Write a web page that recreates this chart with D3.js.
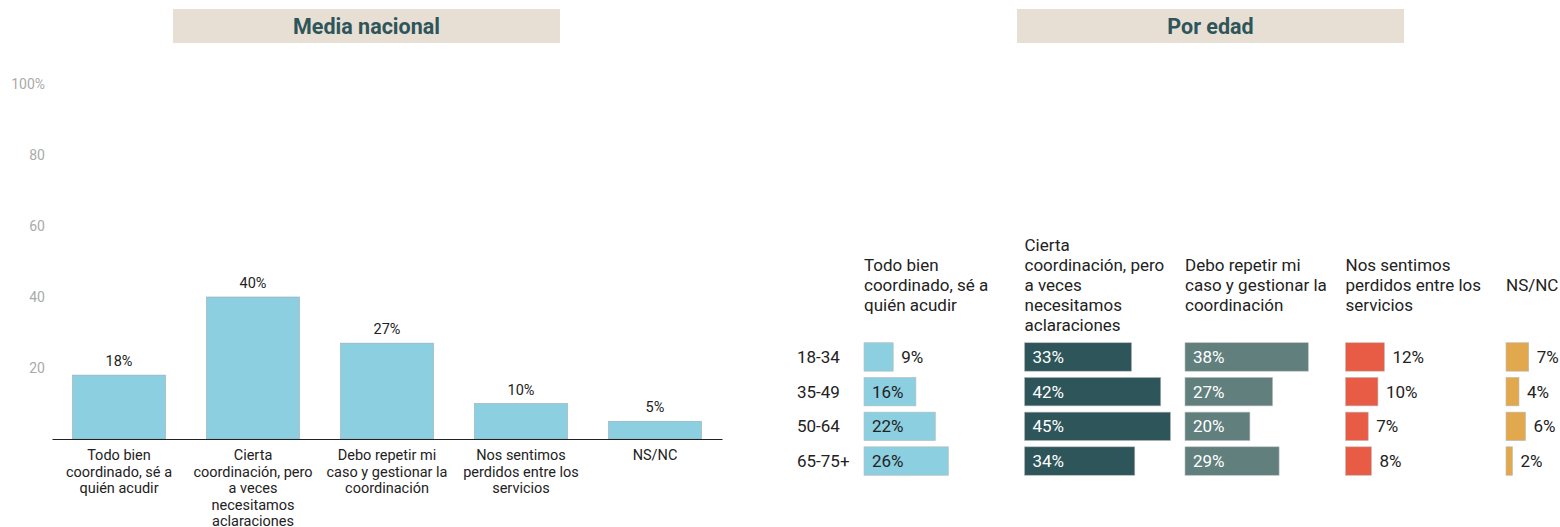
<!DOCTYPE html>
<html>
<head>
<meta charset="utf-8">
<script src="https://cdn.jsdelivr.net/npm/d3@7"></script>
<style>
  body { margin: 0; background: #fff; font-family: Roboto, "Noto Sans", sans-serif; }
  svg text { font-family: Roboto, "Noto Sans", sans-serif; }
</style>
</head>
<body>
<svg id="chart" width="1560" height="527"></svg>
<script>
// answers, with their line breaks as drawn
const categories = [
  ["Todo bien", "coordinado, sé a", "quién acudir"],
  ["Cierta", "coordinación, pero", "a veces", "necesitamos", "aclaraciones"],
  ["Debo repetir mi", "caso y gestionar la", "coordinación"],
  ["Nos sentimos", "perdidos entre los", "servicios"],
  ["NS/NC"]
];
const nationalValues = [18, 40, 27, 10, 5];
const yTicks = [20, 40, 60, 80, 100];

const ageGroups = ["18-34", "35-49", "50-64", "65-75+"];
const todoBien = [9, 16, 22, 26];
const cierta = [33, 42, 45, 34];
const debo = [38, 27, 20, 29];
const perdidos = [12, 10, 7, 8];
const nsnc = [7, 4, 6, 2];
const ageSeries = [todoBien, cierta, debo, perdidos, nsnc];
const seriesColors = ["#8ccfe0", "#2d555a", "#607f7d", "#e85c45", "#e2a84d"];
const labelInside = [v => v >= 15, () => true, () => true, () => false, () => false];

const svg = d3.select("#chart");
const titleColor = "#2d555a";
const textColor = "#222";

// title boxes
const titles = [{ text: "Media nacional", x: 173 }, { text: "Por edad", x: 1017 }];
titles.forEach(t => {
  svg.append("rect").attr("x", t.x).attr("y", 9).attr("width", 387).attr("height", 34).attr("fill", "#e8dfd4");
  svg.append("text").attr("x", t.x + 193.5).attr("y", 34).attr("text-anchor", "middle")
    .style("font-size", "21.5px").style("font-weight", 700).attr("fill", titleColor).text(t.text);
});

// ---- left: national average
const x = d3.scaleBand().domain(d3.range(categories.length)).range([52, 722]).paddingInner(0.306).paddingOuter(0.153);
const y = d3.scaleLinear().domain([0, 100]).range([439, 84]);

const yAxis = svg.append("g").attr("transform", "translate(52,0)")
  .call(d3.axisLeft(y).tickValues(yTicks).tickSize(0).tickPadding(7).tickFormat(d => d === 100 ? "100%" : d));
yAxis.select(".domain").remove();
yAxis.selectAll("text").attr("fill", "#aaa").style("font-size", "14px");

svg.append("g").selectAll("rect").data(nationalValues).join("rect")
  .attr("x", (d, i) => x(i)).attr("y", d => y(d))
  .attr("width", x.bandwidth()).attr("height", d => y(0) - y(d))
  .attr("fill", "#8ccfe0").attr("stroke", "#9ab").attr("stroke-width", 0.6);

svg.append("g").selectAll("text").data(nationalValues).join("text")
  .attr("x", (d, i) => x(i) + x.bandwidth() / 2).attr("y", d => y(d) - 9)
  .attr("text-anchor", "middle").style("font-size", "14.5px").attr("fill", textColor)
  .text(d => d + "%");

const xAxis = svg.append("g").attr("transform", "translate(0,439)")
  .call(d3.axisBottom(x).tickSize(0).tickFormat(""));
xAxis.select(".domain").attr("stroke", "#222").attr("stroke-width", 1.2);

svg.append("g").selectAll("text").data(categories).join("text")
  .attr("x", (d, i) => x(i) + x.bandwidth() / 2).attr("y", 460)
  .attr("text-anchor", "middle").style("font-size", "14.5px").attr("fill", textColor)
  .each(function (lines) {
    d3.select(this).selectAll("tspan").data(lines).join("tspan")
      .attr("x", d3.select(this).attr("x")).attr("dy", (l, j) => j === 0 ? 0 : 16.6).text(l => l);
  });

// ---- right: by age
const colX = d3.scalePoint().domain(d3.range(categories.length)).range([864, 1506]);
const w = d3.scaleLinear().domain([0, 45]).range([0, 146]);
const row = d3.scaleBand().domain(ageGroups).range([341, 477]).paddingInner(0.18).paddingOuter(0.05);

svg.append("g").selectAll("text").data(ageGroups).join("text")
  .attr("x", 797).attr("y", d => row(d) + row.bandwidth() / 2 + 6)
  .style("font-size", "17px").attr("fill", textColor).text(d => d);

// column headers, centred vertically on one line
categories.forEach((lines, c) => {
  const lh = 19.8;
  const top = 291 - (lines.length - 1) * lh / 2;
  const t = svg.append("text").attr("x", colX(c)).attr("y", top)
    .style("font-size", "17px").attr("fill", textColor);
  t.selectAll("tspan").data(lines).join("tspan")
    .attr("x", colX(c)).attr("dy", (l, j) => j === 0 ? 0 : lh).text(l => l);
});

ageSeries.forEach((vals, c) => {
  const g = svg.append("g");
  g.selectAll("rect").data(vals).join("rect")
    .attr("x", colX(c)).attr("y", (d, i) => row(ageGroups[i]))
    .attr("width", d => w(d)).attr("height", row.bandwidth())
    .attr("fill", seriesColors[c]).attr("stroke", "#bbb").attr("stroke-width", 0.6);
  g.selectAll("text").data(vals).join("text")
    .attr("x", d => labelInside[c](d) ? colX(c) + 8 : colX(c) + w(d) + 8)
    .attr("y", (d, i) => row(ageGroups[i]) + row.bandwidth() / 2 + 6)
    .style("font-size", "17px")
    .attr("fill", d => labelInside[c](d) ? (c === 0 ? textColor : "#fff") : textColor)
    .text(d => d + "%");
});
</script>
</body>
</html>
